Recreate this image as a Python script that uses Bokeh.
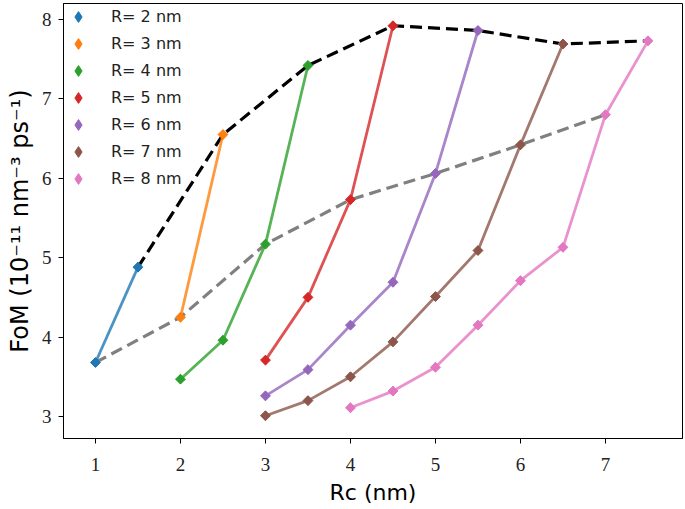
import math
from bokeh.plotting import figure
from bokeh.models import Range1d, Legend, LegendItem, FixedTicker
from bokeh.embed import file_html
from bokeh.resources import INLINE

# ---- data ----
radii = [2, 3, 4, 5, 6, 7, 8]
series_labels = ["R= 2 nm", "R= 3 nm", "R= 4 nm", "R= 5 nm", "R= 6 nm", "R= 7 nm", "R= 8 nm"]
colors = ["#1f77b4", "#ff7f0e", "#2ca02c", "#d62728", "#9467bd", "#8c564b", "#e377c2"]

rc_R2 = [1.0, 1.5]
fom_R2 = [3.68, 4.88]
rc_R3 = [2.0, 2.5]
fom_R3 = [4.25, 6.55]
rc_R4 = [2.0, 2.5, 3.0, 3.5]
fom_R4 = [3.47, 3.96, 5.17, 7.42]
rc_R5 = [3.0, 3.5, 4.0, 4.5]
fom_R5 = [3.71, 4.50, 5.73, 7.92]
rc_R6 = [3.0, 3.5, 4.0, 4.5, 5.0, 5.5]
fom_R6 = [3.26, 3.59, 4.15, 4.69, 6.06, 7.86]
rc_R7 = [3.0, 3.5, 4.0, 4.5, 5.0, 5.5, 6.0, 6.5]
fom_R7 = [3.01, 3.20, 3.50, 3.94, 4.51, 5.09, 6.42, 7.69]
rc_R8 = [4.0, 4.5, 5.0, 5.5, 6.0, 6.5, 7.0, 7.5]
fom_R8 = [3.11, 3.32, 3.62, 4.15, 4.71, 5.13, 6.80, 7.73]

# envelope of maxima (black dashed) and Rc = R - 1 points (grey dashed)
max_rc = [1.5, 2.5, 3.5, 4.5, 5.5, 6.5, 7.5]
max_fom = [4.88, 6.55, 7.42, 7.92, 7.86, 7.69, 7.73]
diag_rc = [1.0, 2.0, 3.0, 4.0, 5.0, 6.0, 7.0]
diag_fom = [3.68, 4.25, 5.17, 5.73, 6.06, 6.42, 6.80]

x_ticks = [1, 2, 3, 4, 5, 6, 7]
y_ticks = [3, 4, 5, 6, 7, 8]

rc_series = [rc_R2, rc_R3, rc_R4, rc_R5, rc_R6, rc_R7, rc_R8]
fom_series = [fom_R2, fom_R3, fom_R4, fom_R5, fom_R6, fom_R7, fom_R8]

p = figure(width=685, height=509, output_backend="svg", toolbar_location=None,
           x_range=Range1d(0.624, 7.906), y_range=Range1d(2.723, 8.2),
           min_border_left=63, min_border_right=3, min_border_top=3, min_border_bottom=71)

p.background_fill_color = "white"
p.border_fill_color = "white"
p.outline_line_color = "black"
p.outline_line_width = 1
p.xgrid.visible = False
p.ygrid.visible = False

# dashed guide lines
p.line(diag_rc, diag_fom, line_color="#808080", line_width=3.2, line_dash="12 6")
p.line(max_rc, max_fom, line_color="black", line_width=3.2, line_dash="12 6")

legend_items = []
for rc, fom, col, lab in zip(rc_series, fom_series, colors, series_labels):
    p.line(rc, fom, line_color=col, line_width=2.8, line_alpha=0.8)
    # diamond marker (used for the legend), covered by the rotated-square marker
    lr = p.scatter(rc, fom, marker="diamond", size=9, fill_color=col, line_color=col)
    p.scatter(rc, fom, marker="square", angle=math.pi / 4, size=7,
              fill_color=col, line_color=col)
    legend_items.append(LegendItem(label=lab, renderers=[lr]))

legend = Legend(items=legend_items, location="top_left")
legend.border_line_color = None
legend.background_fill_alpha = 0
legend.margin = 0
legend.padding = 2
legend.spacing = 0
legend.glyph_width = 30
legend.glyph_height = 27
legend.label_height = 27
legend.label_standoff = 18
legend.label_text_font = "DejaVu Sans"
legend.label_text_font_size = "16px"
legend.label_text_color = "#222222"
p.add_layout(legend)

for ax in (p.xaxis[0], p.yaxis[0]):
    ax.axis_line_color = "black"
    ax.major_tick_line_color = "black"
    ax.major_tick_in = 0
    ax.major_tick_out = 5
    ax.minor_tick_line_color = None
    ax.major_label_text_font = "Liberation Serif"
    ax.major_label_text_font_size = "19px"
    ax.major_label_text_color = "#222222"
    ax.axis_label_text_font = "DejaVu Sans"
    ax.axis_label_text_font_style = "normal"
    ax.axis_label_text_color = "black"

p.xaxis[0].axis_label_text_font_size = "22px"
p.yaxis[0].axis_label_text_font_size = "24px"
p.xaxis[0].ticker = FixedTicker(ticks=x_ticks)
p.yaxis[0].ticker = FixedTicker(ticks=y_ticks)
p.xaxis[0].axis_label = "Rc (nm)"
p.yaxis[0].axis_label = "FoM (10⁻¹¹ nm⁻³ ps⁻¹)"
p.xaxis[0].major_label_standoff = 14
p.xaxis[0].axis_label_standoff = 6
p.yaxis[0].major_label_standoff = 7
p.yaxis[0].axis_label_standoff = 5

open("out.html", "w").write(file_html(p, INLINE))
